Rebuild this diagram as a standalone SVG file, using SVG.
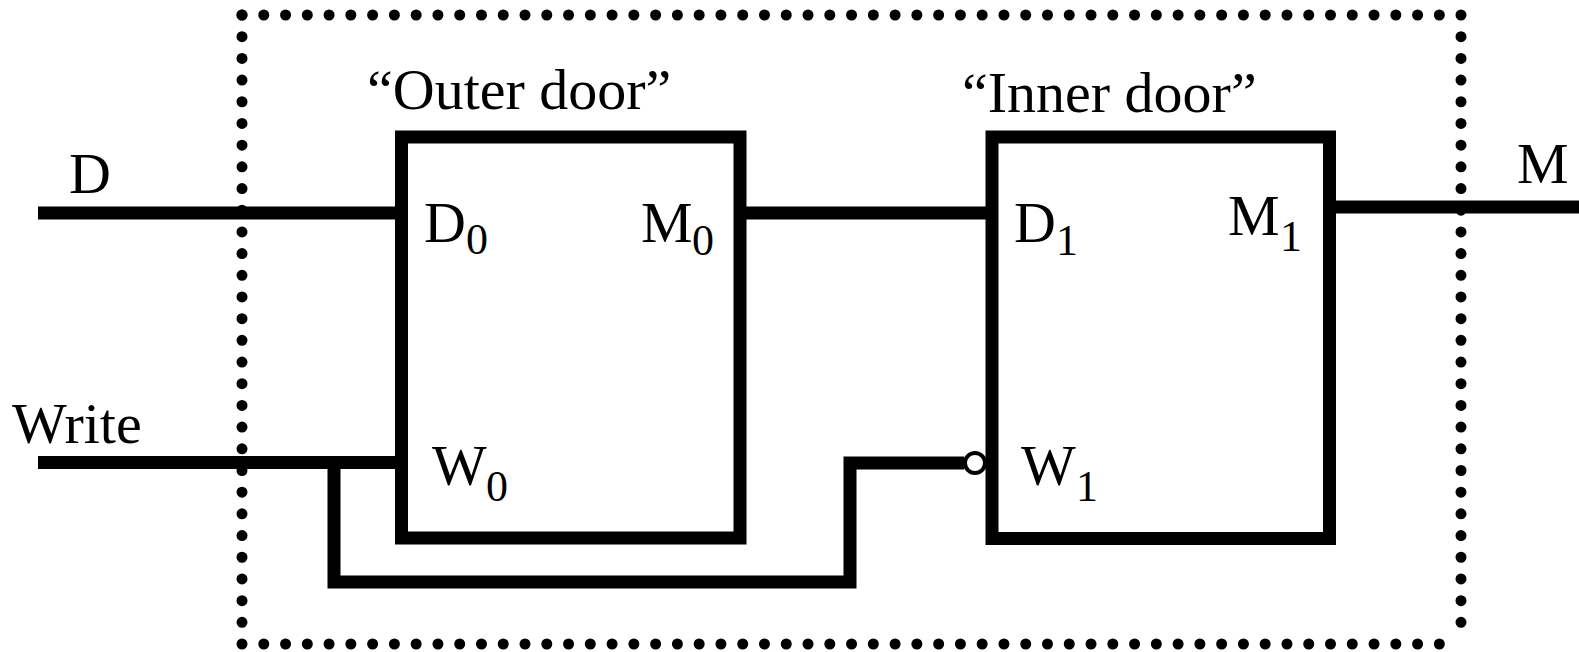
<svg xmlns="http://www.w3.org/2000/svg" width="1579" height="652" viewBox="0 0 1579 652">
<style>
.t{font-family:"Liberation Serif","Times New Roman",serif;font-size:58px;fill:#000}
.s{font-family:"Liberation Serif","Times New Roman",serif;font-size:44px;fill:#000}
.box{fill:none;stroke:#000;stroke-width:13;stroke-linejoin:miter}
.wire{fill:none;stroke:#000;stroke-width:13;stroke-linejoin:miter;stroke-linecap:butt}
.dot{fill:none;stroke:#000;stroke-width:11;stroke-linecap:round}
</style>
<rect width="1579" height="652" fill="#fff"/>
<g id="boundary">
<path class="dot" d="M242 15 H1461" stroke-dasharray="0 21.77"/>
<path class="dot" d="M242 644 H1461" stroke-dasharray="0 21.77"/>
<path class="dot" d="M242 15 V644" stroke-dasharray="0 21.69"/>
<path class="dot" d="M1461 15 V644" stroke-dasharray="0 21.69"/>
</g>
<g id="connectors">
<path class="wire" d="M38 213 H401"/>
<path class="wire" d="M38 462.5 H401"/>
<path class="wire" d="M334 462.5 V582 H850 V463 H964"/>
<path class="wire" d="M740 213 H992"/>
<path class="wire" d="M1329 207 H1579"/>
</g>
<g id="outer-door">
<rect class="box" x="401.5" y="137" width="338.5" height="401"/>
<text class="t" x="367" y="109">“Outer door”</text>
<text class="t" x="424" y="242">D</text><text class="s" x="466" y="254">0</text>
<text class="t" x="641" y="242">M</text><text class="s" x="692" y="255">0</text>
<text class="t" x="432" y="485">W</text><text class="s" x="486" y="501">0</text>
</g>
<g id="inner-door">
<rect class="box" x="992" y="137" width="337.5" height="401.5"/>
<circle cx="975" cy="463" r="10" fill="#fff" stroke="#000" stroke-width="4"/>
<text class="t" x="962" y="112">“Inner door”</text>
<text class="t" x="1014" y="242">D</text><text class="s" x="1056" y="255">1</text>
<text class="t" x="1228" y="235">M</text><text class="s" x="1280" y="251">1</text>
<text class="t" x="1021" y="485">W</text><text class="s" x="1076" y="501">1</text>
</g>
<g id="ports">
<text class="t" x="69" y="193">D</text>
<text class="t" x="12" y="443">Write</text>
<text class="t" x="1517" y="183">M</text>
</g>
</svg>
